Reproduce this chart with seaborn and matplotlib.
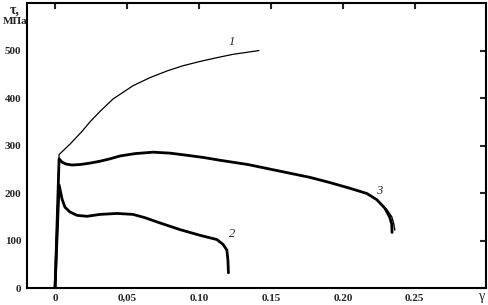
import numpy as np
import pandas as pd
import matplotlib
matplotlib.use("Agg")
import matplotlib.pyplot as plt
import seaborn as sns

sns.set_style("white")
plt.rcParams["font.family"] = ["Liberation Serif", "DejaVu Serif"]

# curve 1
g1 = [0, 0.0028, 0.0104, 0.0188, 0.0243, 0.0313, 0.0403, 0.0542, 0.0660, 0.0778,
      0.0889, 0.1007, 0.1125, 0.1236, 0.1417]
t1 = [0, 281, 303, 330, 350, 372, 398, 426, 443, 457, 468, 477, 485, 492, 500]
# curve 2
g2 = [0, 0.0028, 0.0049, 0.0069, 0.0104, 0.0153, 0.0222, 0.0313, 0.0431, 0.0542,
      0.0625, 0.0729, 0.0868, 0.1007, 0.1125, 0.1167, 0.1194, 0.1201, 0.1205]
t2 = [0, 217, 187, 170, 160, 153, 151, 155, 157, 155, 148, 137, 123, 111, 102, 92, 80, 60, 32]
# curve 3
g3 = [0, 0.0028, 0.0049, 0.0076, 0.0118, 0.0174, 0.0243, 0.0313, 0.0382, 0.0451,
      0.0556, 0.0681, 0.0799, 0.0903, 0.1028, 0.1146, 0.1340, 0.1563, 0.1771, 0.1910,
      0.2049, 0.2167, 0.2236, 0.2292, 0.2326, 0.2340, 0.2342]
t3 = [0, 272, 265, 261, 259, 260, 263, 267, 272, 278, 283, 286, 284, 280, 275, 269,
      260, 246, 233, 222, 210, 199, 186, 168, 149, 134, 117]
# second specimen, tail of curve 3
g3b = [0.2236, 0.2306, 0.2340, 0.2354, 0.2361]
t3b = [185, 165, 150, 135, 122]

xticks = [0, 0.05, 0.10, 0.15, 0.20, 0.25]
xlabels = ["0", "0,05", "0.10", "0.15", "0.20", "0.25"]
yticks = [0, 100, 200, 300, 400, 500]

fig = plt.figure(figsize=(4.89, 3.05), dpi=100)
ax = fig.add_axes([0.0552, 0.0557, 0.9387, 0.9343])

sns.lineplot(x=g1, y=t1, ax=ax, color="black", lw=0.9, sort=False, estimator=None)
sns.lineplot(x=g2, y=t2, ax=ax, color="black", lw=2.0, sort=False, estimator=None)
sns.lineplot(x=g3, y=t3, ax=ax, color="black", lw=2.0, sort=False, estimator=None)
sns.lineplot(x=g3b, y=t3b, ax=ax, color="black", lw=1.0, sort=False, estimator=None)

ax.set_xlim(-0.0195, 0.2995)
ax.set_ylim(0, 600)
ax.set_xticks(xticks)
ax.set_xticklabels(xlabels)
ax.set_yticks(yticks)
ax.tick_params(direction="in", length=4, width=1.5, top=True, right=True,
               labelsize=8, pad=4)
for lab in ax.get_xticklabels() + ax.get_yticklabels():
    lab.set_fontweight("bold")
for s in ax.spines.values():
    s.set_linewidth(1.5)
    s.set_color("black")

ax.text(0.1205, 512, "1", fontsize=9, style="italic")
ax.text(0.121, 108, "2", fontsize=9, style="italic")
ax.text(0.223, 198, "3", fontsize=9, style="italic")

fig.text(0.03, 0.99, "τ,", fontsize=10, fontweight="bold", ha="center", va="top")
fig.text(0.03, 0.945, "МПа", fontsize=8, fontweight="bold", ha="center", va="top")
fig.text(0.985, 0.005, "γ", fontsize=10, ha="center", va="bottom")

fig.savefig("out.png", dpi=100)
